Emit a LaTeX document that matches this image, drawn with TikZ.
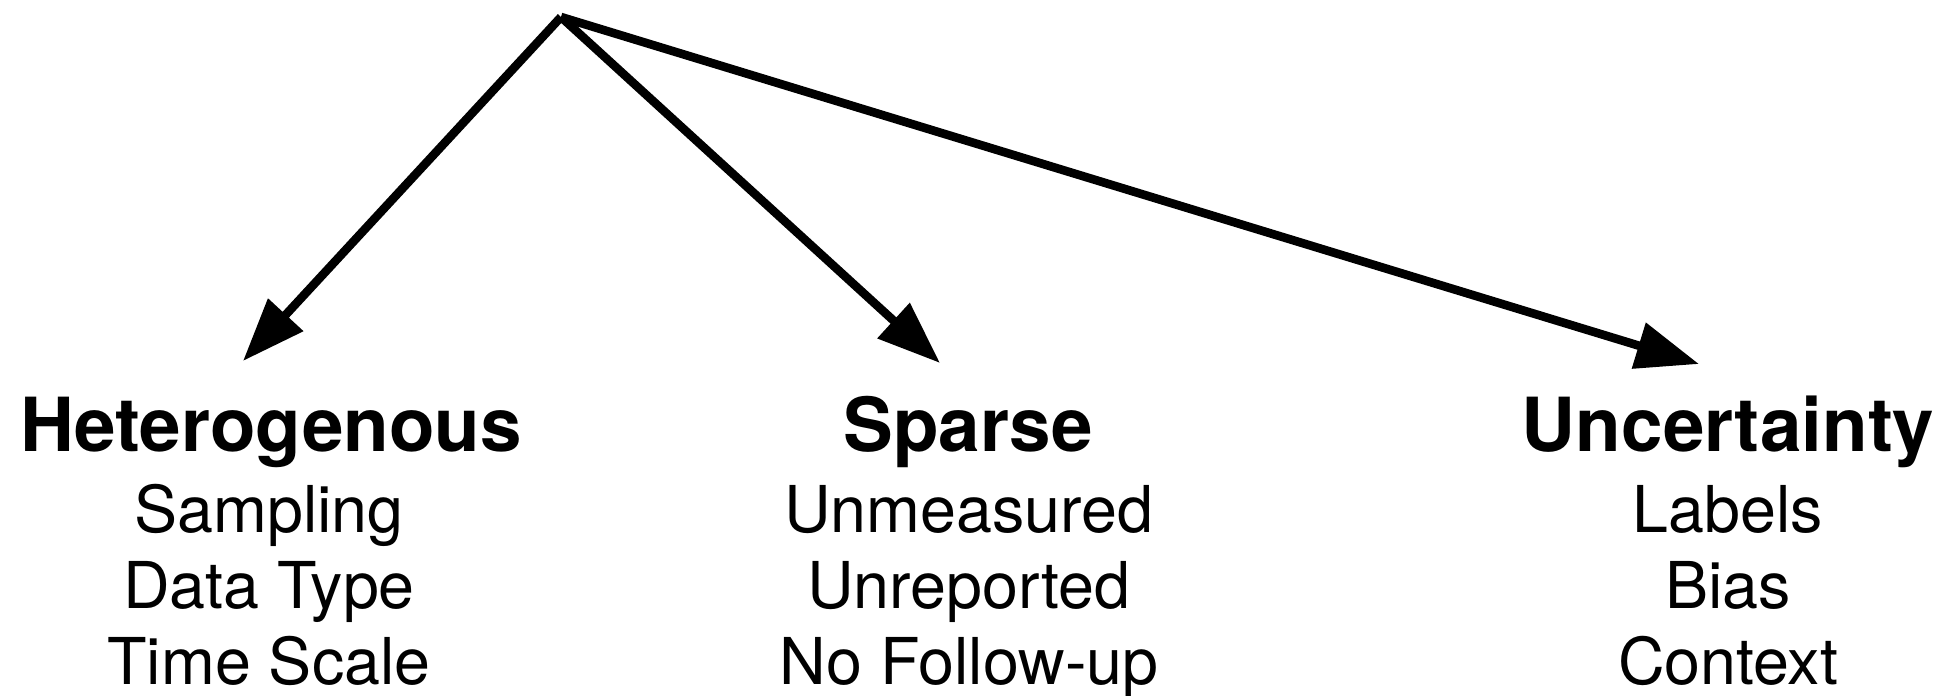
\documentclass[tikz,border=0pt]{standalone}
\usepackage{fontspec}
\setmainfont{TeX Gyre Heros}
\usetikzlibrary{arrows.meta}
\tikzset{
  conn/.style={line width=4.3pt,-{Triangle[length=31.5pt,width=23pt]}},
  head/.style={anchor=base,inner sep=0pt,font=\bfseries\fontsize{37.3}{40}\selectfont},
  item/.style={anchor=base,inner sep=0pt,font=\fontsize{32.3}{36}\selectfont}
}
\begin{document}
\begin{tikzpicture}[x=0.5pt,y=-0.5pt]
\useasboundingbox (0,0) rectangle (1949,696);
\coordinate (top) at (561,17);
\coordinate (t1) at (243,361);
\coordinate (t2) at (940,363);
\coordinate (t3) at (1699,364);
\draw[conn] (top) -- (t1);
\draw[conn] (top) -- (t2);
\draw[conn] (top) -- (t3);
\node[head] (h1) at (271,451) {Heterogenous};
\node[item] (h1a) at (269,532) {Sampling};
\node[item] (h1b) at (269,608) {Data Type};
\node[item] (h1c) at (269,684) {Time Scale};
\node[head] (h2) at (968,451) {Sparse};
\node[item] (h2a) at (969,532) {Unmeasured};
\node[item] (h2b) at (969,608) {Unreported};
\node[item] (h2c) at (969,684) {No Follow-up};
\node[head] (h3) at (1728,451) {Uncertainty};
\node[item] (h3a) at (1728,532) {Labels};
\node[item] (h3b) at (1728,608) {Bias};
\node[item] (h3c) at (1728,684) {Context};
\end{tikzpicture}
\end{document}
